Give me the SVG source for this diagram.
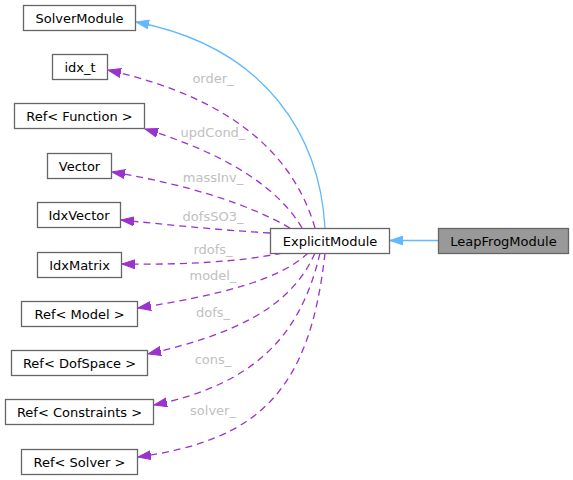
<svg xmlns="http://www.w3.org/2000/svg" width="573" height="480" viewBox="0 0 573 480">
<style>
.n rect{fill:#ffffff;stroke:#666666;stroke-width:1.3}
.n text{font-family:"DejaVu Sans",sans-serif;font-size:13px;fill:#000000;text-anchor:middle}
.e{fill:none;stroke:#9a32cd;stroke-width:1.3;stroke-dasharray:7,5}
.i{fill:none;stroke:#63b8ff;stroke-width:1.3}
.l{font-family:"DejaVu Sans",sans-serif;font-size:13px;fill:#c0c0c0;text-anchor:middle}
</style>
<defs>
<marker id="ap" markerUnits="userSpaceOnUse" markerWidth="14" markerHeight="10" refX="13" refY="5" orient="auto">
<path d="M0,0.5 L13,5 L0,9.5 z" fill="#9a32cd" stroke="#9a32cd"/>
</marker>
<marker id="ab" markerUnits="userSpaceOnUse" markerWidth="14" markerHeight="10" refX="13" refY="5" orient="auto">
<path d="M0,0.5 L13,5 L0,9.5 z" fill="#63b8ff" stroke="#63b8ff"/>
</marker>
</defs>
<g id="edges">
<path class="i" d="M438,240.5 L390,240.5" marker-end="url(#ab)"/>
<path class="i" d="M325,228 C320,140 270,48 136,22" marker-end="url(#ab)"/>
<path class="e" d="M315,228 C295,160 240,100 108,70" marker-end="url(#ap)"/>
<path class="e" d="M302,228 C280,190 230,155 145,129" marker-end="url(#ap)"/>
<path class="e" d="M290,228 C250,205 190,185 112,172" marker-end="url(#ap)"/>
<path class="e" d="M270,233 C220,230 170,225 121,220" marker-end="url(#ap)"/>
<path class="e" d="M282,253 C240,262 180,265 122,264" marker-end="url(#ap)"/>
<path class="e" d="M308,253 C280,280 220,295 138,308" marker-end="url(#ap)"/>
<path class="e" d="M315,253 C290,310 230,335 148,354" marker-end="url(#ap)"/>
<path class="e" d="M320,253 C300,340 250,385 154,405" marker-end="url(#ap)"/>
<path class="e" d="M325,253 C310,390 260,440 138,457" marker-end="url(#ap)"/>
<text class="l" x="213" y="83">order_</text>
<text class="l" x="213" y="137">updCond_</text>
<text class="l" x="213" y="182">massInv_</text>
<text class="l" x="213" y="221">dofsSO3_</text>
<text class="l" x="213" y="254">rdofs_</text>
<text class="l" x="213" y="280">model_</text>
<text class="l" x="213" y="317">dofs_</text>
<text class="l" x="213" y="364">cons_</text>
<text class="l" x="213" y="415">solver_</text>
</g>
<g id="LeapFrogModule" class="n"><rect x="438.5" y="228.5" width="130" height="25" style="fill:#999999"/><text x="503.5" y="245.5">LeapFrogModule</text></g>
<g id="ExplicitModule" class="n"><rect x="270.5" y="228.5" width="119" height="25"/><text x="330" y="245.5">ExplicitModule</text></g>
<g id="SolverModule" class="n"><rect x="23.5" y="5.5" width="112" height="25"/><text x="79.5" y="22.5">SolverModule</text></g>
<g id="idx_t" class="n"><rect x="52.5" y="54.5" width="55" height="25"/><text x="80" y="71.5">idx_t</text></g>
<g id="RefFunction" class="n"><rect x="14.5" y="103.5" width="130" height="25"/><text x="79.5" y="120.5">Ref&lt; Function &gt;</text></g>
<g id="Vector" class="n"><rect x="47.5" y="153.5" width="64" height="25"/><text x="79.5" y="170.5">Vector</text></g>
<g id="IdxVector" class="n"><rect x="37.5" y="202.5" width="83" height="25"/><text x="79" y="219.5">IdxVector</text></g>
<g id="IdxMatrix" class="n"><rect x="37.5" y="252.5" width="84" height="25"/><text x="79.5" y="269.5">IdxMatrix</text></g>
<g id="RefModel" class="n"><rect x="21.5" y="301.5" width="116" height="25"/><text x="79.5" y="318.5">Ref&lt; Model &gt;</text></g>
<g id="RefDofSpace" class="n"><rect x="11.5" y="350.5" width="136" height="25"/><text x="79.5" y="367.5">Ref&lt; DofSpace &gt;</text></g>
<g id="RefConstraints" class="n"><rect x="5.5" y="399.5" width="148" height="25"/><text x="79.5" y="416.5">Ref&lt; Constraints &gt;</text></g>
<g id="RefSolver" class="n"><rect x="21.5" y="449.5" width="116" height="25"/><text x="79.5" y="466.5">Ref&lt; Solver &gt;</text></g>
</svg>
